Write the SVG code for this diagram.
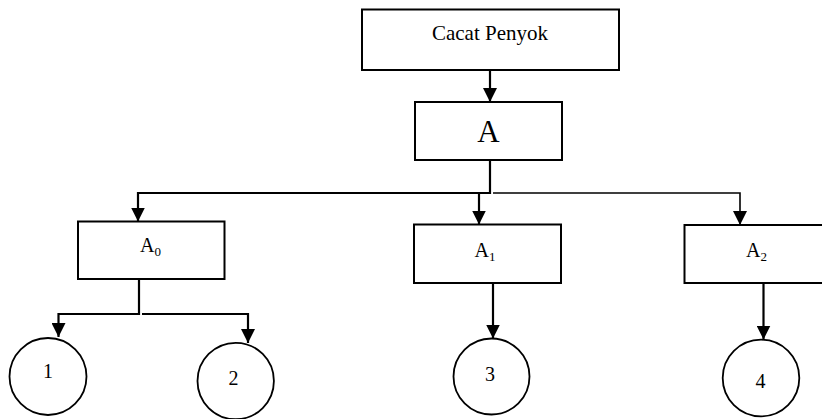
<svg xmlns="http://www.w3.org/2000/svg" width="822" height="419" viewBox="0 0 822 419">
<style>
.box{fill:#fff;stroke:#000;stroke-width:2}
.circ{fill:#fff;stroke:#000;stroke-width:1.8}
.t{font-family:"Liberation Serif","Times New Roman",serif;fill:#000;text-anchor:middle}
.c{fill:none;stroke:#000;stroke-width:2.2}
.sub{font-size:13px}
</style>
<defs>
<marker id="ah" markerUnits="userSpaceOnUse" markerWidth="14" markerHeight="14" refX="14" refY="7" orient="auto" viewBox="0 0 14 14">
<path d="M0,0 L14,7 L0,14 z" fill="#000"/>
</marker>
</defs>
<rect width="822" height="419" fill="#fff"/>
<g id="connectors">
<path class="c" d="M490,70 V102" marker-end="url(#ah)"/>
<path class="c" d="M490,160 V193 H138 V221.5" marker-end="url(#ah)"/>
<path class="c" d="M493,193 H740 V225" style="stroke-width:1.6" marker-end="url(#ah)"/>
<path class="c" d="M479,193 V224.5" marker-end="url(#ah)"/>
<path class="c" d="M139,279 V314 H58.5 V337" marker-end="url(#ah)"/>
<path class="c" d="M142,314 H248 V343" marker-end="url(#ah)"/>
<path class="c" d="M493,283 V338.5" marker-end="url(#ah)"/>
<path class="c" d="M763.5,283 V339.5" marker-end="url(#ah)"/>
</g>
<g id="cacat">
<rect class="box" x="362" y="9.5" width="257" height="60.5"/>
<text class="t" x="490" y="40" font-size="21">Cacat Penyok</text>
</g>
<g id="A">
<rect class="box" x="415" y="102" width="147" height="58"/>
<text class="t" x="488.5" y="141.5" font-size="31">A</text>
</g>
<g id="A0">
<rect class="box" x="78" y="221.5" width="146.5" height="57.5"/>
<text class="t" x="150.5" y="251.5" font-size="20">A<tspan class="sub" dy="4">0</tspan></text>
</g>
<g id="A1">
<rect class="box" x="414" y="224.5" width="147" height="58.5"/>
<text class="t" x="485" y="256.5" font-size="20">A<tspan class="sub" dy="4">1</tspan></text>
</g>
<g id="A2">
<rect class="box" x="684.5" y="225" width="140" height="58"/>
<text class="t" x="756.5" y="256.5" font-size="20">A<tspan class="sub" dy="4">2</tspan></text>
</g>
<g id="n1">
<circle class="circ" cx="48" cy="376.5" r="38.5"/>
<text class="t" x="48" y="378" font-size="20">1</text>
</g>
<g id="n2">
<circle class="circ" cx="235.7" cy="381" r="38.2"/>
<text class="t" x="233.5" y="385" font-size="20">2</text>
</g>
<g id="n3">
<circle class="circ" cx="491.5" cy="376.5" r="38"/>
<text class="t" x="490" y="381" font-size="20">3</text>
</g>
<g id="n4">
<circle class="circ" cx="761" cy="378" r="38.3"/>
<text class="t" x="760.5" y="387.5" font-size="20">4</text>
</g>
</svg>
